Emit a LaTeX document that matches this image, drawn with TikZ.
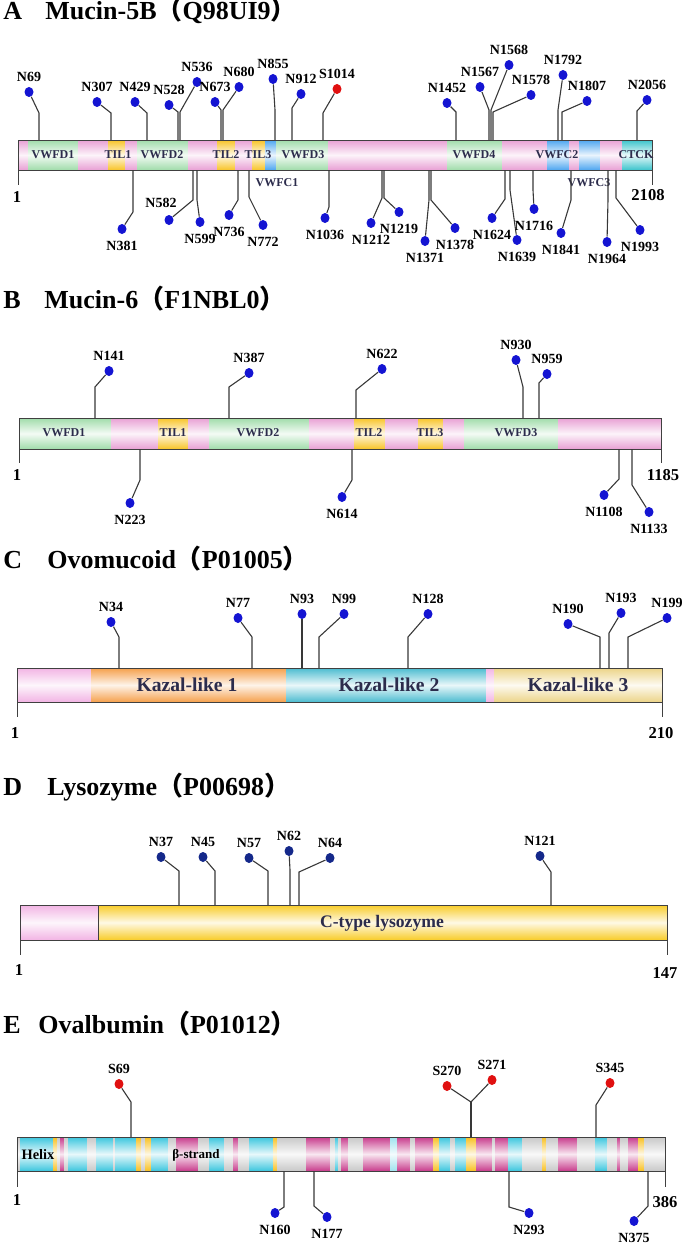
\documentclass[tikz,border=0pt]{standalone}
\usepackage{fontspec}
\setmainfont{Liberation Serif}
\newfontfamily\cjk{Noto Sans CJK SC}
\usetikzlibrary{positioning,shapes.geometric}

\definecolor{vwfd}{HTML}{A0DCAA}
\definecolor{mpink}{HTML}{E8A0D4}
\definecolor{til}{HTML}{F8C428}
\definecolor{vwfc}{HTML}{4EA6F0}
\definecolor{ctck}{HTML}{3CC4CC}
\definecolor{kzone}{HTML}{F5A04C}
\definecolor{kztwo}{HTML}{4CBCD0}
\definecolor{kzthree}{HTML}{ECD488}
\definecolor{cpink}{HTML}{F2B4E4}
\definecolor{lyso}{HTML}{F8CC28}
\definecolor{helix}{HTML}{3CC6DE}
\definecolor{lhelix}{HTML}{9EE2EE}
\definecolor{strand}{HTML}{C83C8C}
\definecolor{coil}{HTML}{C8C8C8}
\definecolor{turn}{HTML}{F8C020}
\definecolor{siteblue}{HTML}{1414D2}
\definecolor{sitenavy}{HTML}{14288A}
\definecolor{sitered}{HTML}{E01010}
\definecolor{stemgray}{HTML}{383838}
\definecolor{bargray}{HTML}{404040}
\definecolor{domtext}{HTML}{2C2C4C}

\tikzset{
  seg/.style={top color=#1, bottom color=#1, middle color=#1!12!white},
  barline/.style={draw=bargray, line width=0.5pt},
  stemline/.style={draw=stemgray, line width=0.55pt},
  glyc/.style={ellipse, fill=#1, inner sep=0pt, minimum width=4.5pt, minimum height=5pt},
  sitelab/.style={font=\bfseries\fontsize{7}{8}\selectfont, inner sep=0pt},
  domlab/.style={font=\bfseries\fontsize{6}{7}\selectfont, text=domtext, inner sep=0pt},
  endlab/.style={font=\bfseries\fontsize{8.3}{9}\selectfont, inner sep=0pt},
  ttl/.style={font=\bfseries\fontsize{13}{15}\selectfont, anchor=base west, inner sep=0pt},
}

\begin{document}
\begin{tikzpicture}[x=0.5pt,y=-0.5pt]
    \useasboundingbox (0,0) rectangle (694,1252);

    % ---------------- A: Mucin-5B
    \node[ttl] (A-tag) at (3,20) {A};
    \node[ttl] (A-ttl) at (45,20) {Mucin-5B{\cjk（}Q98UI9{\cjk）}};
    \foreach \xa/\xb/\c in {18/28/mpink, 28/78/vwfd, 78/108/mpink, 108/125/til,
        125/137/mpink, 137/188/vwfd, 188/217/mpink, 217/235/til, 235/252/mpink,
        252/265/til, 265/276/vwfc, 276/328/vwfd, 328/447/mpink, 447/502/vwfd,
        502/547/mpink, 547/569/vwfc, 569/579/mpink, 579/600/vwfc, 600/622/mpink,
        622/652/ctck}
        \fill[seg=\c] (\xa,140) rectangle (\xb,170);
    \draw[barline] (18,140) rectangle (652,170);
    \draw[barline] (18,170) -- (18,185);
    \draw[barline] (652,170) -- (652,185);
    \node[endlab] (A-first) at (17,197) {1};
    \node[endlab] (A-last) at (648,195) {2108};

    % domain names
    \foreach \x/\y/\t in {53/155/VWFD1, 118/155/TIL1, 162/155/VWFD2, 226/155/TIL2,
        258/155/TIL3, 303/155/VWFD3, 474/155/VWFD4, 557/155/VWFC2, 636/155/CTCK,
        277/183/VWFC1, 589/183/VWFC3}
        \node[domlab] (A-\t) at (\x,\y) {\t};

    % sites above the bar
    \foreach \sx/\ey/\dx/\dy/\t in {39/113/29/92/N69, 111/113/97/102/N307,
        147/113/135/102/N429, 178/112/169/105/N528, 180/112/197/82/N536,
        221/110/215/102/N673, 223/110/239/87/N680, 275/110/273/79/N855,
        292/108/301/94/N912, 456/112/447/103/N1452, 489/110/480/87/N1567,
        491/110/509/65/N1568, 493/112/531/95/N1578, 558/110/563/75/N1792,
        562/112/587/101/N1807, 637/111/647/100/N2056} {
        \coordinate (A-s\t) at (\sx,140);
        \coordinate (A-e\t) at (\sx,\ey);
        \node[glyc=siteblue] (A-d\t) at (\dx,\dy) {};
        \node[sitelab, above=2.5pt of A-d\t] {\t};
        \draw[stemline] (A-s\t) -- (A-e\t) -- (A-d\t);
    }
    \coordinate (A-sS1014) at (323,140);
    \coordinate (A-eS1014) at (323,113);
    \node[glyc=sitered] (A-dS1014) at (337,89) {};
    \node[sitelab, above=2.5pt of A-dS1014] {S1014};
    \draw[stemline] (A-sS1014) -- (A-eS1014) -- (A-dS1014);

    % sites below the bar
    \foreach \sx/\ey/\dx/\dy/\t in {133/212/122/229/N381, 197/200/200/222/N599,
        238/200/229/215/N736, 249/197/263/225/N772, 329/207/325/218/N1036,
        382/198/371/223/N1212, 384/198/399/212/N1219, 429/200/425/241/N1371,
        431/200/455/228/N1378, 505/199/492/218/N1624, 510/190/517/240/N1639,
        533/190/534/209/N1716, 571/200/561/233/N1841, 608/200/607/242/N1964,
        616/198/640/230/N1993} {
        \coordinate (A-s\t) at (\sx,170);
        \coordinate (A-e\t) at (\sx,\ey);
        \node[glyc=siteblue] (A-d\t) at (\dx,\dy) {};
        \node[sitelab, below=3pt of A-d\t] {\t};
        \draw[stemline] (A-s\t) -- (A-e\t) -- (A-d\t);
    }
    \coordinate (A-sN582) at (193,170);
    \coordinate (A-eN582) at (193,200);
    \node[glyc=siteblue] (A-dN582) at (169,220) {};
    \node[sitelab] (A-lN582) at (161,203) {N582};
    \draw[stemline] (A-sN582) -- (A-eN582) -- (A-dN582);

    % ---------------- B: Mucin-6
    \node[ttl] (B-tag) at (3,308) {B};
    \node[ttl] (B-ttl) at (44,308) {Mucin-6{\cjk（}F1NBL0{\cjk）}};
    \foreach \xa/\xb/\c in {19/111/vwfd, 111/158/mpink, 158/188/til, 188/209/mpink,
        209/309/vwfd, 309/354/mpink, 354/385/til, 385/418/mpink, 418/443/til,
        443/464/mpink, 464/558/vwfd, 558/661/mpink}
        \fill[seg=\c] (\xa,418) rectangle (\xb,449);
    \draw[barline] (19,418) rectangle (661,449);
    \draw[barline] (19,449) -- (19,463);
    \draw[barline] (661,449) -- (661,463);
    \node[endlab] (B-first) at (17,475) {1};
    \node[endlab] (B-last) at (663,475) {1185};

    \foreach \x/\t in {64/VWFD1, 173/TIL1, 258/VWFD2, 369/TIL2, 430/TIL3, 516/VWFD3}
        \node[domlab] (B-\t) at (\x,433) {\t};

    \foreach \sx/\ey/\dx/\dy/\t in {95/387/109/371/N141, 229/387/249/373/N387,
        356/390/382/369/N622, 523/387/516/360/N930, 539/383/547/374/N959} {
        \coordinate (B-s\t) at (\sx,418);
        \coordinate (B-e\t) at (\sx,\ey);
        \node[glyc=siteblue] (B-d\t) at (\dx,\dy) {};
        \node[sitelab, above=2.5pt of B-d\t] {\t};
        \draw[stemline] (B-s\t) -- (B-e\t) -- (B-d\t);
    }
    \foreach \sx/\ey/\dx/\dy/\t in {140/480/130/503/N223, 352/480/342/497/N614,
        619/479/604/495/N1108, 632/485/649/512/N1133} {
        \coordinate (B-s\t) at (\sx,449);
        \coordinate (B-e\t) at (\sx,\ey);
        \node[glyc=siteblue] (B-d\t) at (\dx,\dy) {};
        \node[sitelab, below=3pt of B-d\t] {\t};
        \draw[stemline] (B-s\t) -- (B-e\t) -- (B-d\t);
    }

    % ---------------- C: Ovomucoid
    \node[ttl] (C-tag) at (3,568) {C};
    \node[ttl] (C-ttl) at (47,568) {Ovomucoid{\cjk（}P01005{\cjk）}};
    \foreach \xa/\xb/\c in {17/91/cpink, 91/286/kzone, 286/486/kztwo,
        486/494/cpink, 494/662/kzthree}
        \fill[seg=\c] (\xa,668) rectangle (\xb,702);
    \draw[barline] (17,668) rectangle (662,702);
    \draw[barline] (17,702) -- (17,717);
    \draw[barline] (662,702) -- (662,717);
    \node[endlab] (C-first) at (15,733) {1};
    \node[endlab] (C-last) at (661,733) {210};

    \foreach \x/\t [count=\i] in {187/Kazal-like 1, 389/Kazal-like 2, 578/Kazal-like 3}
        \node[domlab, font=\bfseries\fontsize{9.8}{11}\selectfont] (C-dom\i) at (\x,685) {\t};

    \foreach \sx/\ey/\dx/\dy/\t in {119/637/111/622/N34, 252/637/238/618/N77,
        302/640/302/614/N93, 319/637/344/614/N99, 408/637/428/614/N128,
        600/637/568/624/N190, 609/633/621/613/N193, 628/637/667/618/N199} {
        \coordinate (C-s\t) at (\sx,668);
        \coordinate (C-e\t) at (\sx,\ey);
        \node[glyc=siteblue] (C-d\t) at (\dx,\dy) {};
        \node[sitelab, above=2.5pt of C-d\t] {\t};
        \draw[stemline] (C-s\t) -- (C-e\t) -- (C-d\t);
    }

    % ---------------- D: Lysozyme
    \node[ttl] (D-tag) at (3,795) {D};
    \node[ttl] (D-ttl) at (47,795) {Lysozyme{\cjk（}P00698{\cjk）}};
    \fill[seg=cpink] (20,905) rectangle (98,940);
    \fill[seg=lyso] (98,905) rectangle (667,940);
    \draw[barline] (20,905) rectangle (667,940);
    \draw[barline] (98,905) -- (98,940);
    \draw[barline] (20,940) -- (20,955);
    \draw[barline] (667,940) -- (667,955);
    \node[endlab] (D-first) at (19,970) {1};
    \node[endlab] (D-last) at (665,973) {147};
    \node[domlab, font=\bfseries\fontsize{8.8}{10}\selectfont] (D-dom) at (382,923) {C-type lysozyme};

    \foreach \sx/\ey/\dx/\dy/\t in {179/871/161/857/N37, 215/871/203/857/N45,
        268/871/249/858/N57, 290/870/289/851/N62, 299/872/330/858/N64,
        551/872/540/856/N121} {
        \coordinate (D-s\t) at (\sx,905);
        \coordinate (D-e\t) at (\sx,\ey);
        \node[glyc=sitenavy] (D-d\t) at (\dx,\dy) {};
        \node[sitelab, above=2.5pt of D-d\t] {\t};
        \draw[stemline] (D-s\t) -- (D-e\t) -- (D-d\t);
    }

    % ---------------- E: Ovalbumin
    \node[ttl] (E-tag) at (3,1033) {E};
    \node[ttl] (E-ttl) at (38,1033) {Ovalbumin{\cjk（}P01012{\cjk）}};
    \foreach \xa/\xb/\c in {17/20/coil, 20/53/helix, 53/57/turn, 57/60/coil,
        60/64/strand, 64/68/coil, 68/87/helix, 87/96/coil, 96/113/helix,
        113/115/coil, 115/136/helix, 136/141/turn, 141/145/coil, 145/151/turn,
        151/168/helix, 168/176/coil, 176/198/strand, 198/209/coil, 209/224/helix,
        224/233/coil, 233/238/strand, 238/249/coil, 249/273/helix, 273/277/turn,
        277/306/coil, 306/330/strand, 330/335/coil, 335/338/helix, 338/341/coil,
        341/348/strand, 348/363/coil, 363/390/strand, 390/397/lhelix,
        397/410/strand, 410/415/coil, 415/433/strand, 433/439/turn, 439/450/helix,
        450/455/coil, 455/466/helix, 466/476/turn, 476/492/strand, 492/495/coil,
        495/508/strand, 508/522/helix, 522/542/coil, 542/546/turn, 546/558/coil,
        558/577/strand, 577/595/coil, 595/607/helix, 607/617/coil, 617/620/strand,
        620/628/coil, 628/638/strand, 638/644/turn, 644/665/coil}
        \fill[seg=\c] (\xa,1137) rectangle (\xb,1171);
    \draw[barline] (17,1137) rectangle (665,1171);
    \draw[barline] (17,1171) -- (17,1187);
    \draw[barline] (665,1171) -- (665,1187);
    \node[endlab] (E-first) at (17,1200) {1};
    \node[endlab] (E-last) at (665,1202) {386};
    \node[domlab, text=black, font=\bfseries\fontsize{7.2}{8}\selectfont] (E-helix) at (38,1155) {Helix};
    \node[domlab, text=black, font=\bfseries\fontsize{6.5}{7}\selectfont] (E-strand) at (196,1155) {β-strand};

    \foreach \sx/\ey/\dx/\dy/\t in {131/1102/119/1084/S69, 471/1102/447/1086/S270,
        471/1102/492/1080/S271, 596/1105/610/1083/S345} {
        \coordinate (E-s\t) at (\sx,1137);
        \coordinate (E-e\t) at (\sx,\ey);
        \node[glyc=sitered] (E-d\t) at (\dx,\dy) {};
        \node[sitelab, above=2.5pt of E-d\t] {\t};
        \draw[stemline] (E-s\t) -- (E-e\t) -- (E-d\t);
    }
    \draw[stemline, line width=1pt] (E-sS270) -- (E-eS270);
    \foreach \sx/\ey/\dx/\dy/\t in {284/1207/275/1213/N160, 314/1206/327/1217/N177,
        509/1207/529/1213/N293, 648/1206/634/1221/N375} {
        \coordinate (E-s\t) at (\sx,1171);
        \coordinate (E-e\t) at (\sx,\ey);
        \node[glyc=siteblue] (E-d\t) at (\dx,\dy) {};
        \node[sitelab, below=3pt of E-d\t] {\t};
        \draw[stemline] (E-s\t) -- (E-e\t) -- (E-d\t);
    }
\end{tikzpicture}
\end{document}
